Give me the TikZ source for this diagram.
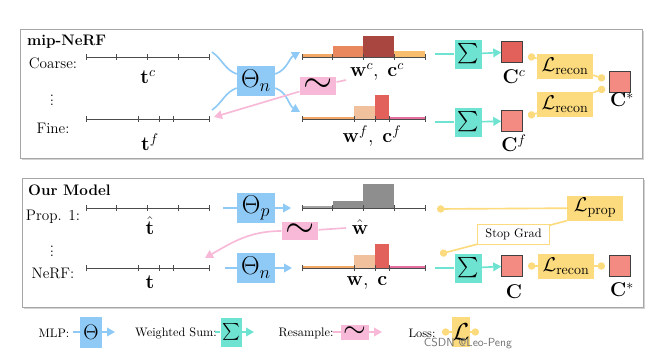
\RequirePackage{fix-cm}
\documentclass[tikz,border=0pt]{standalone}
\usepackage{exscale}
\usepackage[rgb]{xcolor}
\usetikzlibrary{arrows.meta,shadows}

\definecolor{mlpblue}{HTML}{8FC9F5}
\definecolor{sumteal}{HTML}{6FE3D1}
\definecolor{resamplepink}{HTML}{F7B9D7}
\definecolor{lossyellow}{HTML}{FCDB7E}
\definecolor{colred}{HTML}{E2615B}
\definecolor{colsalmon}{HTML}{F38B83}
\definecolor{histdark}{HTML}{A8463F}
\definecolor{historange}{HTML}{E9885E}
\definecolor{histlight}{HTML}{F8BD6D}
\definecolor{histpeach}{HTML}{F1C19D}
\definecolor{histpink}{HTML}{E46FA0}
\definecolor{histgray}{HTML}{8E8E8E}

\tikzset{
  panel/.style={draw=black!35, fill=white, drop shadow={shadow xshift=.5mm, shadow yshift=-.5mm, opacity=.35}},
  rowlabel/.style={font=\fontsize{13}{15}\selectfont},
  headlabel/.style={font=\bfseries\fontsize{13}{15}\selectfont, anchor=west},
  mathlabel/.style={font=\fontsize{17}{19}\selectfont},
  keylabel/.style={font=\fontsize{10.5}{12}\selectfont},
  mlp/.style={fill=mlpblue, inner sep=0pt, minimum width=1.14cm, minimum height=.9cm, font=\fontsize{22}{24}\selectfont},
  wsum/.style={fill=sumteal, inner sep=0pt, minimum width=.81cm, minimum height=.87cm, font=\fontsize{17}{19}\selectfont},
  resample/.style={fill=resamplepink, inner sep=0pt, minimum width=1.1cm, minimum height=.54cm, font=\fontsize{32}{32}\selectfont},
  loss/.style={fill=lossyellow, inner sep=0pt, minimum width=1.68cm, minimum height=.75cm, font=\fontsize{17}{19}\selectfont},
  colbox/.style={draw=black!75, minimum size=.63cm, inner sep=0pt},
  stopgrad/.style={draw=lossyellow, line width=1.2pt, fill=white, minimum width=2.16cm, minimum height=.6cm, font=\fontsize{10.5}{12}\selectfont},
  axis/.style={draw=black!70, line width=.7pt},
  mlpline/.style={draw=mlpblue, line width=1.4pt},
  sumline/.style={draw=sumteal, line width=1.4pt},
  resampleline/.style={draw=resamplepink, line width=1.4pt},
  lossline/.style={draw=lossyellow, line width=1.4pt},
  tip/.style={-{Triangle[length=2.4mm,width=2.6mm]}},
  dot/.style={{Circle[length=2.2mm]}-}
}

\begin{document}
\begin{tikzpicture}[x=0.03cm,y=-0.03cm]
    \useasboundingbox (0,0) rectangle (666,361);
    \draw[panel] (20,29) rectangle (642,158);
    \draw[panel] (22,178) rectangle (643,307);

    \node[headlabel] (mipnerf) at (23,42) {mip-NeRF};
    \node[headlabel] (ourmodel) at (24,190) {Our Model};
    \node[rowlabel] (coarse) at (53,63) {Coarse:};
    \node[rowlabel] (vdotsa) at (52,97) {$\vdots$};
    \node[rowlabel] (fine) at (53,128) {Fine:};
    \node[rowlabel] (prop) at (53,217) {Prop. 1:};
    \node[rowlabel] (vdotsb) at (52,248) {$\vdots$};
    \node[rowlabel] (nerf) at (53,273) {NeRF:};

    % histograms
    \fill[histlight!60!historange] (302,54) rectangle (333,57);
    \fill[historange] (333,46) rectangle (363,57);
    \fill[histdark] (363,36) rectangle (394,57);
    \fill[histlight] (394,51) rectangle (425,57);
    \foreach \y in {119,268}{
      \fill[histlight!60!historange] (302,\y-2) rectangle (354,\y);
      \fill[histpeach] (354,\y-13) rectangle (375,\y);
      \fill[colred] (375,\y-24) rectangle (389,\y);
      \fill[histpink] (389,\y-2) rectangle (425,\y);
    }
    \fill[histgray!80] (302,206) rectangle (333,208);
    \fill[histgray] (333,201) rectangle (363,208);
    \fill[histgray] (363,184) rectangle (394,208);

    % sample axes, histogram axes
    \foreach \y/\ticks in {57/{86,116,147,178,209},119/{86,138,159,173,209},208/{86,116,147,178,209},268/{86,138,159,173,209}}{
      \draw[axis] (86,\y) -- (209,\y);
      \draw[axis] (302,\y) -- (425,\y);
      \foreach \x in \ticks {
        \draw[axis] (\x,\y-3) -- (\x,\y+3);
        \draw[axis] (\x+216,\y-3) -- (\x+216,\y+3);
      }
    }

    \node[mathlabel] (tc) at (148,77) {$\mathbf{t}^c$};
    \node[mathlabel] (tf) at (150,142) {$\mathbf{t}^f$};
    \node[mathlabel] (that) at (150,226) {$\hat{\mathbf{t}}$};
    \node[mathlabel] (t) at (150,282) {$\mathbf{t}$};
    \node[mathlabel] (wc) at (377,72) {$\mathbf{w}^c,\;\mathbf{c}^c$};
    \node[mathlabel] (wf) at (372,136) {$\mathbf{w}^f,\;\mathbf{c}^f$};
    \node[mathlabel] (what) at (360,227) {$\hat{\mathbf{w}}$};
    \node[mathlabel] (w) at (367,283) {$\mathbf{w},\;\mathbf{c}$};

    % mip-NeRF
    \node[mlp] (thetana) at (256,81) {$\Theta_n$};
    \coordinate (coarseout) at (212,52);
    \coordinate (fineout) at (212,110);
    \coordinate (coarsein) at (300,52);
    \coordinate (finein) at (300,112);
    \draw[mlpline] (coarseout) to[out=-35,in=160] (thetana);
    \draw[mlpline] (fineout) to[out=35,in=-160] (thetana);
    \draw[mlpline,tip] (thetana) to[out=20,in=-150] (coarsein);
    \draw[mlpline,tip] (thetana) to[out=-20,in=150] (finein);

    \node[resample] (resamplea) at (318,86) {$\sim$};
    \coordinate (wcpink) at (346,80);
    \coordinate (fineback) at (214,117);
    \draw[resampleline] (wcpink) -- (resamplea);
    \draw[resampleline,tip] (resamplea) -- (fineback);

    \node[wsum] (suma) at (468,54) {$\sum$};
    \node[wsum] (sumb) at (468,122) {$\sum$};
    \coordinate (sumain) at (435,54);
    \coordinate (sumbin) at (435,122);
    \node[colbox,fill=colred] (cc) at (512,52) {};
    \node[colbox,fill=colsalmon] (cf) at (512,121) {};
    \node[colbox,fill=colsalmon] (cstara) at (620,82) {};
    \draw[sumline] (sumain) -- (suma);
    \draw[sumline,tip] (suma) -- (cc);
    \draw[sumline] (sumbin) -- (sumb);
    \draw[sumline,tip] (sumb) -- (cf);
    \node[mathlabel] (cclabel) at (514,77) {$\mathbf{C}^c$};
    \node[mathlabel] (cflabel) at (514,143) {$\mathbf{C}^f$};
    \node[mathlabel] (cstaralabel) at (622,100) {$\mathbf{C}^*$};

    \node[loss] (recona) at (565,66) {$\mathcal{L}_{\mathrm{recon}}$};
    \node[loss] (reconb) at (565,104) {$\mathcal{L}_{\mathrm{recon}}$};
    \coordinate (ccdot) at (528,56);
    \coordinate (cfdot) at (528,116);
    \coordinate (cstartop) at (605,79);
    \coordinate (cstarbot) at (605,88);
    \draw[lossline,dot] (ccdot) -- (recona);
    \draw[lossline,dot] (cstartop) -- (recona);
    \draw[lossline,dot] (cfdot) -- (reconb);
    \draw[lossline,dot] (cstarbot) -- (reconb);

    % our model
    \node[mlp] (thetap) at (256,208) {$\Theta_p$};
    \node[mlp] (thetanb) at (256,268) {$\Theta_n$};
    \coordinate (propout) at (223,208);
    \coordinate (propin) at (291,208);
    \coordinate (nerfout) at (225,268);
    \coordinate (nerfin) at (292,268);
    \draw[mlpline] (propout) -- (thetap);
    \draw[mlpline,tip] (thetap) -- (propin);
    \draw[mlpline] (nerfout) -- (thetanb);
    \draw[mlpline,tip] (thetanb) -- (nerfin);

    \node[resample] (resampleb) at (300,231) {$\sim$};
    \coordinate (whatpink) at (346,228);
    \coordinate (nerfback) at (205,258);
    \draw[resampleline] (whatpink) -- (resampleb);
    \draw[resampleline,tip] (resampleb) to[out=180,in=30] (nerfback);

    \node[loss] (lprop) at (595,208) {$\mathcal{L}_{\mathrm{prop}}$};
    \coordinate (propdot) at (437,209);
    \coordinate (stopdot) at (440,254);
    \draw[lossline,dot] (propdot) -- (lprop);
    \draw[lossline,dot] (stopdot) -- node[stopgrad,pos=.58] (stopgrad) {Stop Grad} (lprop.south west);

    \node[wsum] (sumc) at (468,268) {$\sum$};
    \coordinate (sumcin) at (435,268);
    \node[colbox,fill=colsalmon] (cnerf) at (512,266) {};
    \node[colbox,fill=colsalmon] (cstarb) at (620,266) {};
    \draw[sumline] (sumcin) -- (sumc);
    \draw[sumline,tip] (sumc) -- (cnerf);
    \node[loss] (reconc) at (566,266) {$\mathcal{L}_{\mathrm{recon}}$};
    \coordinate (cnerfdot) at (528,266);
    \coordinate (cstarbdot) at (605,266);
    \draw[lossline,dot] (cnerfdot) -- (reconc);
    \draw[lossline,dot] (cstarbdot) -- (reconc);
    \node[mathlabel] (cnerflabel) at (514,292) {$\mathbf{C}$};
    \node[mathlabel] (cstarblabel) at (622,290) {$\mathbf{C}^*$};

    % legend
    \node[keylabel] (mlpkey) at (54,333) {MLP:};
    \node[mlp,minimum width=.66cm,minimum height=.93cm,font=\fontsize{18}{20}\selectfont] (mlpsym) at (91,332) {$\Theta$};
    \coordinate (mlpa) at (73,332);
    \coordinate (mlpb) at (115,332);
    \draw[mlpline] (mlpa) -- (mlpsym);
    \draw[mlpline,tip] (mlpsym) -- (mlpb);

    \node[keylabel] (sumkey) at (176,333) {Weighted Sum:};
    \node[wsum,minimum width=.63cm,minimum height=.87cm,font=\fontsize{15}{17}\selectfont] (sumsym) at (231,332) {$\sum$};
    \coordinate (suma0) at (215,332);
    \coordinate (sumb0) at (254,332);
    \draw[sumline] (suma0) -- (sumsym);
    \draw[sumline,tip] (sumsym) -- (sumb0);

    \node[keylabel] (resamplekey) at (306,333) {Resample:};
    \node[resample,minimum width=.84cm,minimum height=.45cm,font=\fontsize{25}{25}\selectfont] (resamplesym) at (355,332) {$\sim$};
    \coordinate (resamplea0) at (333,332);
    \coordinate (resampleb0) at (382,332);
    \draw[resampleline] (resamplea0) -- (resamplesym);
    \draw[resampleline,tip] (resamplesym) -- (resampleb0);

    \node[keylabel] (losskey) at (422,333) {Loss:};
    \node[loss,minimum width=.54cm,minimum height=.9cm,font=\fontsize{21}{23}\selectfont] (losssym) at (461,332) {$\mathcal{L}$};
    \coordinate (lossa0) at (442,332);
    \coordinate (lossb0) at (479,332);
    \draw[lossline,dot] (lossa0) -- (losssym);
    \draw[lossline,dot] (lossb0) -- (losssym);

    \node[font=\sffamily\fontsize{10}{12}\selectfont, text=black!55] (mark) at (468,344) {CSDN @Leo-Peng};
\end{tikzpicture}
\end{document}
